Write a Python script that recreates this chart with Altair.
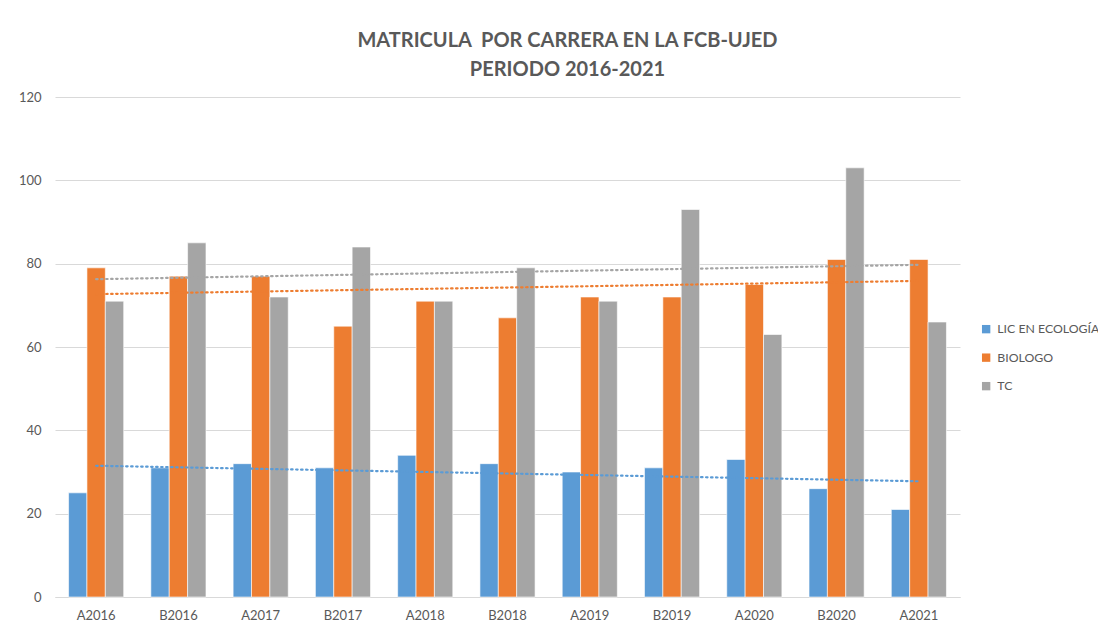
import altair as alt
import pandas as pd

periods = ["A2016", "B2016", "A2017", "B2017", "A2018", "B2018",
           "A2019", "B2019", "A2020", "B2020", "A2021"]
series_names = ["LIC EN ECOLOGÍA", "BIOLOGO", "TC"]
lic = [25, 31, 32, 31, 34, 32, 30, 31, 33, 26, 21]
bio = [79, 77, 77, 65, 71, 67, 72, 72, 75, 81, 81]
tc = [71, 85, 72, 84, 71, 79, 71, 93, 63, 103, 66]
colors = ["#5B9BD5", "#ED7D31", "#A5A5A5"]

rows = []
for name, vals in zip(series_names, [lic, bio, tc]):
    for i, (p, v) in enumerate(zip(periods, vals)):
        rows.append({"periodo": p, "idx": i, "serie": name, "valor": v})
df = pd.DataFrame(rows)

FONT = "Lato"
GRAY_TXT = "#595959"

color_scale = alt.Scale(domain=series_names, range=colors)

bars = alt.Chart(df).mark_bar(stroke="white", strokeWidth=0.6).encode(
    x=alt.X("periodo:N", sort=periods, title=None,
            scale=alt.Scale(paddingInner=0.33, paddingOuter=0.165),
            axis=alt.Axis(labelAngle=0, ticks=False, domainColor="#d9d9d9",
                          labelColor=GRAY_TXT, labelFontSize=13, labelPadding=12,
                          labelFont=FONT, grid=False)),
    xOffset=alt.XOffset("serie:N", sort=series_names),
    y=alt.Y("valor:Q", title=None,
            scale=alt.Scale(domain=[0, 120]),
            axis=alt.Axis(values=[0, 20, 40, 60, 80, 100, 120], ticks=False,
                          domain=False, gridColor="#d9d9d9", gridWidth=1,
                          labelColor=GRAY_TXT, labelFontSize=13, labelPadding=14,
                          labelFont=FONT)),
    color=alt.Color("serie:N", scale=color_scale, sort=series_names,
                    legend=alt.Legend(title=None, orient="none", legendX=925,
                                      legendY=226, symbolType="square",
                                      symbolSize=70, labelFontSize=12.3,
                                      labelOffset=5,
                                      labelColor=GRAY_TXT, labelFont=FONT,
                                      rowPadding=15.5, symbolStrokeWidth=0,
                                      labelLimit=200)),
)

trend = alt.Chart(df).transform_regression(
    "idx", "valor", groupby=["serie"], extent=[0, 10]
).mark_line(strokeDash=[1.5, 3.5], strokeWidth=2.2, strokeCap="round").encode(
    x=alt.X("idx:Q", scale=alt.Scale(domain=[-0.5, 10.5]), axis=None),
    y=alt.Y("valor:Q", scale=alt.Scale(domain=[0, 120])),
    stroke=alt.Stroke("serie:N", scale=color_scale, legend=None),
)

chart = alt.layer(bars, trend).resolve_scale(x="independent").properties(
    width=905, height=500,
    autosize=alt.AutoSizeParams(type="none"),
    padding={"left": 47, "top": 89, "right": 138, "bottom": 24},
    title=alt.Title(["MATRICULA\u00a0\u00a0POR CARRERA EN LA FCB-UJED", "PERIODO 2016-2021"],
                    anchor="middle", dx=60, offset=11, fontSize=20,
                    font=FONT, fontWeight="bold", color=GRAY_TXT, lineHeight=29),
).configure(background="white", view=alt.ViewConfig(stroke=None))

chart.save("out.html", embed_options={"renderer": "svg", "actions": False})
